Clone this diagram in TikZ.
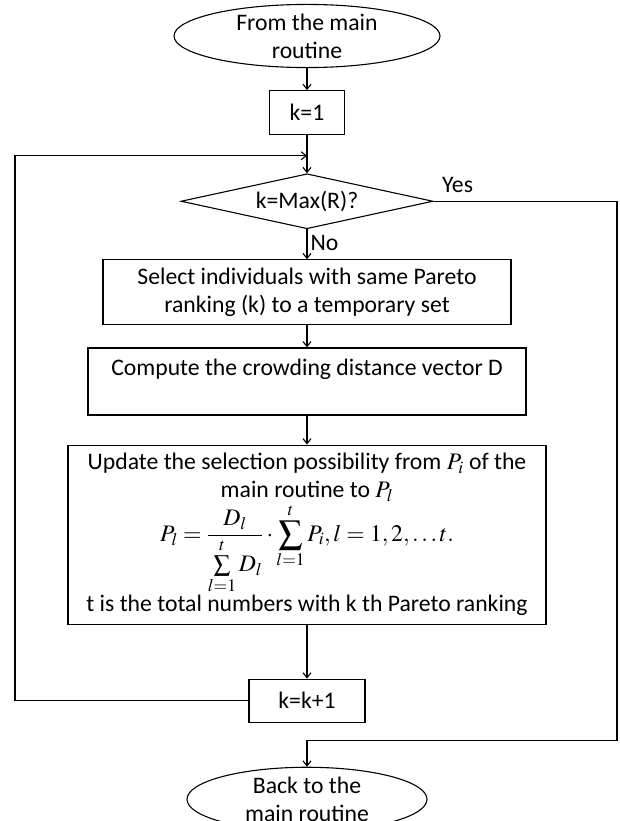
\documentclass[tikz,border=0pt]{standalone}
\usepackage{amsmath}
\usepackage{mathptmx}
\usepackage{fontspec}
\setmainfont{Carlito}
\usepackage{tikz}
\usetikzlibrary{positioning}
\usetikzlibrary{shapes}
\usetikzlibrary{arrows.meta}

\begin{document}
\begin{tikzpicture}[x=1pt, y=1pt, line width=1.1pt,
		font=\fontsize{23.7}{28}\selectfont,
		>={Straight Barb[length=5pt,width=8pt]},
		terminal/.style={draw, ellipse, inner sep=0pt, align=center},
		procbox/.style={draw, rectangle, inner sep=0pt, align=center},
		decide/.style={draw, diamond, inner sep=0pt, aspect=4.6}]
		\useasboundingbox (0,0) rectangle (619,-821);
		\node (start) [terminal, minimum width=266pt, minimum height=60pt] at
		(307,-36) {From the main\\routine}; \node (k1) [procbox, below=22pt of
		start, minimum width=75pt, minimum height=44pt] {k=1}; \node (test)
		[decide, below=38pt of k1, minimum width=252pt, minimum height=55pt]
		{k=Max(R)?}; \node (sel) [procbox, below=30pt of test, minimum
		width=408pt, minimum height=65pt] {Select individuals with same Pareto\\
			ranking (k) to a temporary set}; \node (crowd) [procbox, below=22pt of
		sel, minimum width=438pt, minimum height=67pt] {Compute the crowding
			distance vector D\\ \mbox{}}; \node (upd) [procbox, below=29pt of crowd,
		minimum width=478pt, minimum height=179pt] {Update the selection
			possibility from $P_i$ of the\\ main routine to $P_l$\\[1pt]
			$\displaystyle P_l=\frac{D_l}{\sum\limits_{l=1}^{t}D_l}\cdot
			\sum_{l=1}^{t}P_i, l=1,2,\ldots t.$\\ t is the total numbers with k th
			Pareto ranking}; \node (inc) [procbox, below=54pt of upd, minimum
		width=116pt, minimum height=43pt] {k=k+1}; \node (stop) [terminal,
		below=44pt of inc, minimum width=240pt, minimum height=64pt] {Back to
			the\\main routine};
		\coordinate [below=20.5pt of k1] (join); \coordinate [above=26.5pt of
		stop] (merge); \coordinate (leftrail) at (15,0); \coordinate (rightrail)
		at (617,0);
		\node (yes) [above right=8pt and 8pt of test.east, inner sep=0pt] {Yes};
		\draw[->] (start) -- (k1); \draw[->] (k1) -- (test); \draw[->] (test) --
		node (no) [right, inner sep=3pt, pos=0.45] {No} (sel); \draw[->] (sel) --
		(crowd); \draw[->] (crowd) -- (upd); \draw[->] (upd) -- (inc);
		\draw[->] (inc.west) -| (leftrail |- join) -- (join); \draw[->]
		(test.east) -| (rightrail |- merge) -- (merge) -- (stop);
	\end{tikzpicture}
\end{document}
